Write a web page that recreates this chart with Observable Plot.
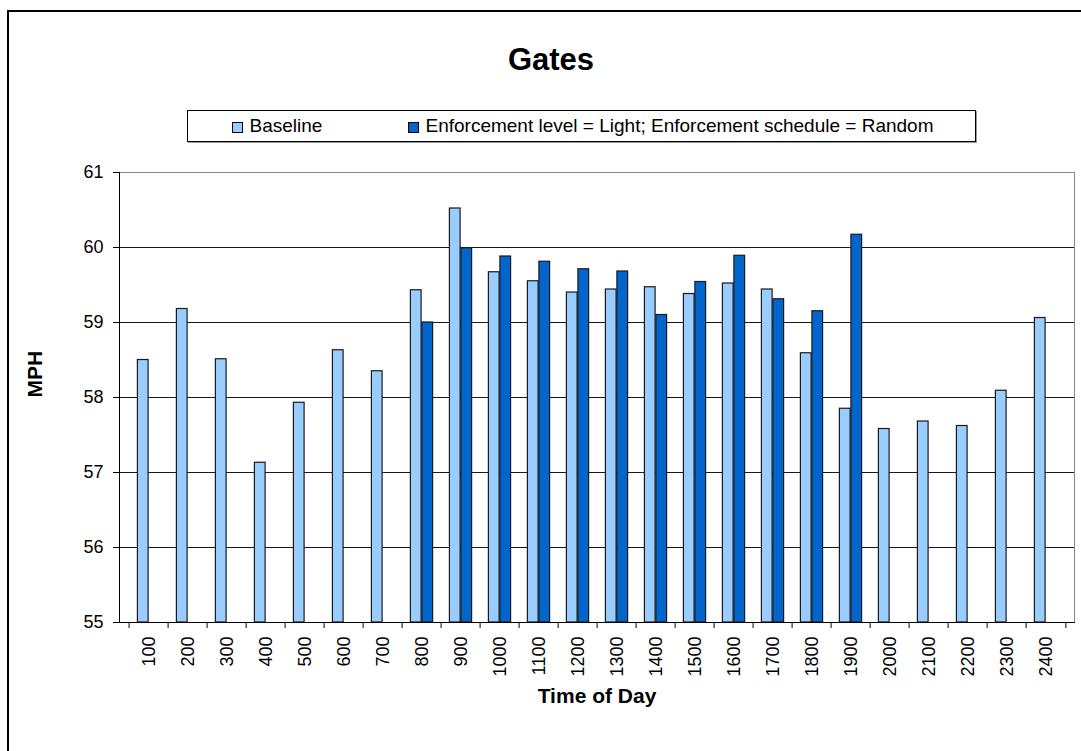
<!DOCTYPE html>
<html><head><meta charset="utf-8">
<script src="https://cdn.jsdelivr.net/npm/d3@7"></script>
<script src="https://cdn.jsdelivr.net/npm/@observablehq/plot@0.6"></script>
<style>
body{margin:0;background:#fff;font-family:"Liberation Sans",Arial,sans-serif;color:#000;}
#wrap{position:relative;width:1081px;height:751px;overflow:hidden;background:#fff;}
#frame{position:absolute;left:7px;top:10px;width:1200px;height:900px;border-left:2px solid #000;border-top:2px solid #000;}
#title{position:absolute;left:451px;width:200px;top:40px;text-align:center;font-weight:bold;font-size:31px;line-height:40px;}
#legend{position:absolute;left:187px;top:110px;width:787px;height:30px;border:1px solid #000;box-shadow:1px 1px 0 #999;background:#fff;}
.item{position:absolute;top:0;line-height:30px;font-size:19px;white-space:nowrap;}
.sw{display:inline-block;width:9px;height:9px;border:1px solid #000;margin-right:7px;vertical-align:-1px;}
#chart{position:absolute;left:0;top:150px;}
</style></head>
<body>
<div id="wrap">
  <div id="frame"></div>
  <div id="title">Gates</div>
  <div id="legend"></div>
  <div id="chart"></div>
</div>
<script>
const times = ["100","200","300","400","500","600","700","800","900","1000","1100","1200","1300","1400","1500","1600","1700","1800","1900","2000","2100","2200","2300","2400"];
const baseline = [58.50,59.18,58.51,57.13,57.93,58.63,58.35,59.43,60.52,59.67,59.55,59.40,59.44,59.47,59.38,59.52,59.44,58.59,57.85,57.58,57.68,57.62,58.09,59.06];
const enforcement = [null,null,null,null,null,null,null,59.00,59.99,59.88,59.81,59.71,59.68,59.10,59.54,59.89,59.31,59.15,60.17,null,null,null,null,null];
const seriesNames = ["Baseline","Enforcement level = Light; Enforcement schedule = Random"];
const seriesColors = ["#99CCFF","#0066CC"];
const yTicks = [55,56,57,58,59,60,61];
const chartTitle = "Gates";
const xTitle = "Time of Day";
const yTitle = "MPH";

// legend
const legendLeft = [43.5, 219.5];
const legend = document.getElementById("legend");
seriesNames.forEach((n,i)=>{
  const it = document.createElement("div");
  it.className = "item";
  it.style.left = legendLeft[i] + "px";
  const sw = document.createElement("span");
  sw.className = "sw";
  sw.style.background = seriesColors[i];
  it.appendChild(sw);
  it.appendChild(document.createTextNode(n));
  legend.appendChild(it);
});
document.getElementById("title").textContent = chartTitle;

const data = times.map((t,i)=>({time:t, base: baseline[i], enf: enforcement[i]}));
const W = 1081, H = 600, mL = 119, mR = 7, mT = 22, mB = 128;
const bw = (W - mL - mR) / times.length;

const plot = Plot.plot({
  width: W, height: H,
  marginLeft: mL, marginRight: mR, marginTop: mT, marginBottom: mB,
  style: {fontFamily: "'Liberation Sans', Arial, sans-serif", fontSize: "18px", color: "#000", background: "transparent", overflow: "visible"},
  x: {type: "band", domain: times, padding: 0, label: null},
  y: {domain: [55, 61], label: null},
  marks: [
    Plot.gridY(yTicks.slice(1, -1), {stroke: "#000", strokeOpacity: 0.9}),
    Plot.frame({anchor: "top", stroke: "#888"}),
    Plot.frame({anchor: "right", stroke: "#888"}),
    Plot.barY(data, {x: "time", y1: 55, y2: "base", fill: seriesColors[0], stroke: "#1a1a1a", strokeWidth: 1.2, insetLeft: 8.4, insetRight: 19.9}),
    Plot.barY(data.filter(d => d.enf != null), {x: "time", y1: 55, y2: "enf", fill: seriesColors[1], stroke: "#1a1a1a", strokeWidth: 1.2, insetLeft: 19.9, insetRight: 8.4}),
    Plot.frame({anchor: "left", stroke: "#000"}),
    Plot.frame({anchor: "bottom", stroke: "#000"}),
    Plot.axisY(yTicks, {tickSize: 6, tickPadding: 10, tickFormat: d3.format("d"), label: null, stroke: "#000"}),
    Plot.axisX({tickSize: 6, tickFormat: () => "", dx: -bw / 2, label: null, stroke: "#000"}),
    Plot.axisX([times[times.length - 1]], {tickSize: 6, tickFormat: () => "", dx: bw / 2, label: null, stroke: "#000"}),
    Plot.axisX({tickSize: 0, tickRotate: -90, tickPadding: 14, label: null}),
    Plot.text([xTitle], {frameAnchor: "bottom", dy: 80, fontWeight: "bold", fontSize: 21}),
    Plot.text([yTitle], {frameAnchor: "left", dx: -84, rotate: -90, fontWeight: "bold", fontSize: 21})
  ]
});
document.getElementById("chart").appendChild(plot);
</script>
</body></html>
